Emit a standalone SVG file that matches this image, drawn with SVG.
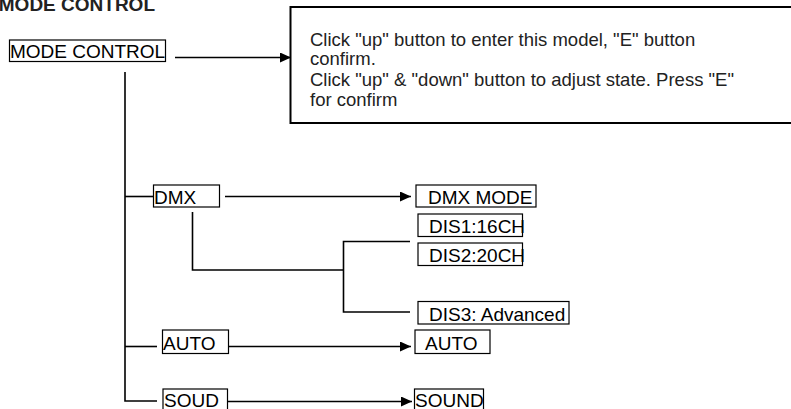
<svg xmlns="http://www.w3.org/2000/svg" width="791" height="409" viewBox="0 0 791 409">
<style>
.box{fill:#fff;stroke:#000;stroke-width:1.2}
.big{fill:#fff;stroke:#000;stroke-width:2}
.t{font-family:"Liberation Sans",Arial,sans-serif;font-size:19px;fill:#000}
.tb{font-family:"Liberation Sans",Arial,sans-serif;font-size:18.5px;fill:#222}
.title{font-family:"Liberation Sans",Arial,sans-serif;font-size:19px;font-weight:bold;fill:#222}
.c{fill:none;stroke:#000;stroke-width:1.6}
</style>
<defs>
<marker id="ah" markerUnits="userSpaceOnUse" markerWidth="12" markerHeight="10" refX="11" refY="5" orient="auto">
<path d="M0,0 L11,5 L0,10 Z" fill="#000"/>
</marker>
</defs>
<rect width="791" height="409" fill="#fff"/>
<text class="title" x="155" y="11" text-anchor="end">MODE CONTROL</text>

<g id="connectors">
<line class="c" x1="175" y1="57.5" x2="291" y2="57.5" marker-end="url(#ah)"/>
<polyline class="c" points="125,72 125,401 157,401"/>
<line class="c" x1="125" y1="196.5" x2="154" y2="196.5"/>
<line class="c" x1="125" y1="346.5" x2="157" y2="346.5"/>
<line class="c" x1="225" y1="196.5" x2="411" y2="196.5" marker-end="url(#ah)"/>
<polyline class="c" points="192.5,212 192.5,270 343.5,270"/>
<polyline class="c" points="410,241.5 343.5,241.5 343.5,312 410,312"/>
<line class="c" x1="228" y1="346.5" x2="411" y2="346.5" marker-end="url(#ah)"/>
<line class="c" x1="228" y1="401.5" x2="412" y2="401.5" marker-end="url(#ah)"/>
</g>

<g id="mode-control">
<rect class="box" x="9.5" y="40" width="156" height="21.5"/>
<text class="t" x="10" y="58">MODE CONTROL</text>
</g>

<g id="note">
<rect class="big" x="290.5" y="7" width="520" height="116"/>
<text class="tb" x="310" y="45.5">Click "up" button to enter this model, "E" button</text>
<text class="tb" x="310" y="65">confirm.</text>
<text class="tb" x="310" y="86">Click "up" &amp; "down" button to adjust state. Press "E"</text>
<text class="tb" x="310" y="106">for confirm</text>
</g>

<g id="dmx">
<rect class="box" x="153.5" y="185" width="66" height="22"/>
<text class="t" x="154" y="203.5">DMX</text>
</g>

<g id="dmx-mode">
<rect class="box" x="416" y="185" width="120" height="22"/>
<text class="t" x="428" y="203.5">DMX MODE</text>
</g>

<g id="dis1">
<rect class="box" x="418" y="214" width="104.5" height="22.5"/>
<text class="t" x="429" y="233">DIS1:16CH</text>
</g>

<g id="dis2">
<rect class="box" x="418" y="243" width="104.5" height="22.5"/>
<text class="t" x="429" y="262">DIS2:20CH</text>
</g>

<g id="dis3">
<rect class="box" x="418" y="301.5" width="151" height="22.5"/>
<text class="t" x="429" y="320.5">DIS3: Advanced</text>
</g>

<g id="auto">
<rect class="box" x="162.5" y="330" width="66" height="23.5"/>
<text class="t" x="163" y="349.5">AUTO</text>
</g>

<g id="auto-out">
<rect class="box" x="415" y="330" width="75" height="23.5"/>
<text class="t" x="425" y="349.5">AUTO</text>
</g>

<g id="soud">
<rect class="box" x="163" y="389" width="64.5" height="30"/>
<text class="t" x="164" y="406.5">SOUD</text>
</g>

<g id="sound">
<rect class="box" x="414.5" y="389" width="69" height="30"/>
<text class="t" x="415" y="406.5">SOUND</text>
</g>
</svg>
